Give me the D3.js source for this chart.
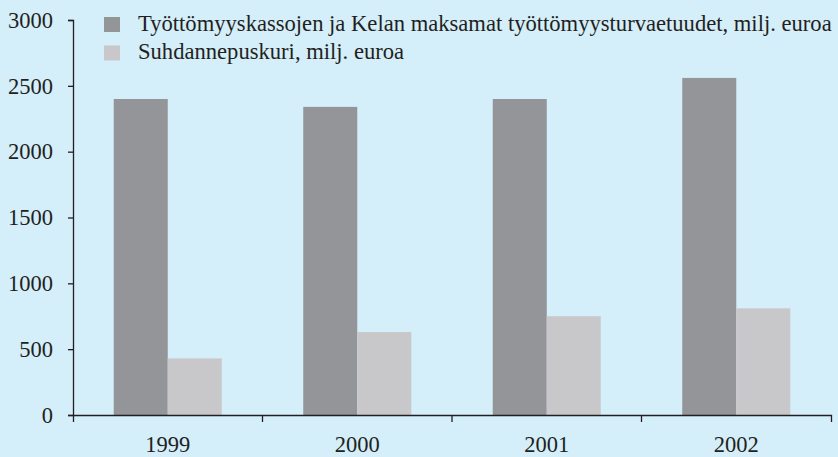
<!DOCTYPE html>
<html>
<head>
<meta charset="utf-8">
<script src="https://cdn.jsdelivr.net/npm/d3@7"></script>
<style>
  body { margin: 0; background: #d4eefa; }
  svg { display: block; }
  text { font-family: "Liberation Serif", "Times New Roman", serif; fill: #231f20; }
</style>
</head>
<body>
<svg id="chart"></svg>
<script>
let years = ['1999', '2000', '2001', '2002']
let seriesNames = [
    'Työttömyyskassojen ja Kelan maksamat työttömyysturvaetuudet, milj. euroa',
    'Suhdannepuskuri, milj. euroa'
]
let benefits = [2400, 2340, 2400, 2560]
let buffer = [430, 630, 750, 810]
let yTicks = [0, 500, 1000, 1500, 2000, 2500, 3000]
let colors = ['#939598', '#c8c8ca']

let width = 838
let height = 457
let plotLeft = 73
let plotRight = 831
let plotTop = 20
let plotBottom = 415

let svg = d3.select('#chart')
    .attr('width', width)
    .attr('height', height)

svg.append('rect')
    .attr('width', width)
    .attr('height', height)
    .attr('fill', '#d4eefa')

let xScale = d3.scaleBand()
    .domain(years)
    .range([plotLeft, plotRight])

let yScale = d3.scaleLinear()
    .domain([0, 3000])
    .range([plotBottom, plotTop])

// bars sit in the middle of each year band
let groupWidth = 108
let inner = d3.scaleBand()
    .domain([0, 1])
    .range([0, groupWidth])

let rows = []
years.forEach((y, i) => {
    rows.push({ year: y, s: 0, value: benefits[i] })
    rows.push({ year: y, s: 1, value: buffer[i] })
})

svg.selectAll('rect.bar')
    .data(rows)
    .enter()
    .append('rect')
    .attr('class', 'bar')
    .attr('x', d => xScale(d.year) + (xScale.bandwidth() - groupWidth) / 2 + inner(d.s))
    .attr('width', inner.bandwidth())
    .attr('y', d => yScale(d.value))
    .attr('height', d => yScale(0) - yScale(d.value))
    .attr('fill', d => colors[d.s])

// y axis
let yAxis = d3.axisLeft(yScale)
    .tickValues(yTicks)
    .tickSize(5)
    .tickSizeOuter(5)
    .tickPadding(15)
    .tickFormat(d3.format('d'))

let gy = svg.append('g')
    .attr('transform', 'translate(' + plotLeft + ',0)')
    .call(yAxis)
gy.select('.domain').attr('stroke', '#231f20').attr('stroke-width', 1.3)
gy.selectAll('.tick line').attr('stroke', '#231f20').attr('stroke-width', 1.3)
gy.selectAll('.tick text')
    .attr('font-size', 22.5)
    .attr('font-family', '"Liberation Serif", serif')
    .attr('fill', '#231f20')

// x axis: labels at the centre, small ticks between the years
let xAxis = d3.axisBottom(xScale)
    .tickSize(0)
    .tickSizeOuter(7)
    .tickPadding(21)

let gx = svg.append('g')
    .attr('transform', 'translate(0,' + plotBottom + ')')
    .call(xAxis)
gx.select('.domain').attr('stroke', '#231f20').attr('stroke-width', 1.3)
gx.selectAll('.tick text')
    .attr('font-size', 22.5)
    .attr('font-family', '"Liberation Serif", serif')
    .attr('fill', '#231f20')

gx.selectAll('line.sep')
    .data(years.slice(1))
    .enter()
    .append('line')
    .attr('class', 'sep')
    .attr('x1', d => xScale(d))
    .attr('x2', d => xScale(d))
    .attr('y1', 1)
    .attr('y2', 7)
    .attr('stroke', '#231f20')
    .attr('stroke-width', 1.3)

// legend
let legend = svg.append('g')
    .attr('transform', 'translate(104,17)')

let items = legend.selectAll('g')
    .data(seriesNames)
    .enter()
    .append('g')
    .attr('transform', (d, i) => 'translate(0,' + (i * 28.5) + ')')

items.append('rect')
    .attr('width', 16)
    .attr('height', 15)
    .attr('fill', (d, i) => colors[i])

items.append('text')
    .attr('x', 34)
    .attr('y', 13.5)
    .attr('font-size', 22.6)
    .text(d => d)
</script>
</body>
</html>
